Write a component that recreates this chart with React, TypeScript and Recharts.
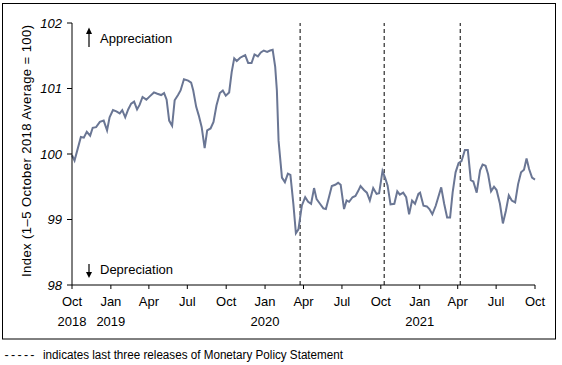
import React from 'react';
import { LineChart, Line, XAxis, YAxis, ReferenceLine } from 'recharts';

// Days since 1 October 2018 (weekly observations)
const days = [
  0, 6, 21, 28, 35, 43, 49, 57, 66, 75,
  83, 89, 97, 105, 113, 119, 126, 133, 140, 147,
  154, 160, 167, 176, 184, 194, 202, 211, 218, 224,
  230, 237, 243, 251, 257, 265, 275, 282, 287, 294,
  300, 307, 314, 320, 328, 335, 342, 350, 357, 364,
  372, 378, 384, 390, 398, 404, 410, 417, 425, 432,
  440, 447, 454, 462, 469, 475, 481, 485, 489, 494,
  497, 504, 511, 517, 524, 530, 536, 544, 552, 559,
  566, 573, 579, 587, 595, 601, 609, 615, 623, 630,
  636, 644, 650, 656, 664, 671, 677, 683, 691, 698,
  705, 713, 721, 727, 735, 741, 747, 754, 763, 770,
  776, 784, 791, 798, 805, 812, 820, 824, 832, 840,
  846, 853, 861, 867, 874, 881, 888, 895, 901, 908,
  915, 922, 930, 937, 944, 950, 958, 966, 972, 979,
  985, 992, 999, 1005, 1013, 1020, 1027, 1034, 1041, 1049,
  1056, 1063, 1070, 1076, 1082, 1089, 1096,
];

// Index (1–5 October 2018 Average = 100)
const values = [
  99.98, 99.9, 100.26, 100.25, 100.34, 100.28, 100.4, 100.41, 100.49, 100.51,
  100.36, 100.56, 100.67, 100.65, 100.62, 100.67, 100.56, 100.68, 100.77, 100.8,
  100.68, 100.75, 100.87, 100.83, 100.88, 100.94, 100.92, 100.9, 100.93, 100.83,
  100.51, 100.43, 100.82, 100.9, 100.97, 101.14, 101.12, 101.09, 100.97, 100.72,
  100.59, 100.41, 100.09, 100.36, 100.39, 100.49, 100.74, 100.93, 100.97, 100.89,
  100.94, 101.25, 101.46, 101.42, 101.47, 101.49, 101.51, 101.39, 101.39, 101.52,
  101.49, 101.55, 101.58, 101.56, 101.58, 101.59, 101.33, 100.97, 100.2, 99.85,
  99.64, 99.57, 99.7, 99.68, 99.24, 98.79, 98.85, 99.21, 99.34, 99.27,
  99.24, 99.48, 99.31, 99.24, 99.17, 99.16, 99.36, 99.51, 99.53, 99.56,
  99.53, 99.16, 99.29, 99.27, 99.34, 99.36, 99.43, 99.51, 99.45, 99.41,
  99.29, 99.48, 99.39, 99.4, 99.74, 99.64, 99.52, 99.23, 99.24, 99.43,
  99.38, 99.41, 99.34, 99.08, 99.29, 99.24, 99.39, 99.41, 99.21, 99.2,
  99.16, 99.08, 99.21, 99.34, 99.49, 99.24, 99.03, 99.03, 99.41, 99.72,
  99.86, 99.89, 100.06, 100.06, 99.6, 99.58, 99.41, 99.75, 99.84, 99.82,
  99.69, 99.43, 99.5, 99.45, 99.24, 98.94, 99.13, 99.37, 99.29, 99.26,
  99.54, 99.72, 99.76, 99.93, 99.77, 99.64, 99.61,
];

const quarterTicks = [0, 92, 182, 273, 365, 457, 548, 639, 731, 823, 913, 1004, 1096];
const monthLabels = ['Oct', 'Jan', 'Apr', 'Jul', 'Oct', 'Jan', 'Apr', 'Jul', 'Oct', 'Jan', 'Apr', 'Jul', 'Oct'];
const yearLabels = ['2018', '2019', '', '', '', '2020', '', '', '', '2021', '', '', ''];
const yTicks = [98, 99, 100, 101, 102];
const mpsReleaseDays = [540, 739, 919];

const yAxisTitle = 'Index (1\u20135 October 2018 Average  = 100)';
const upNote = 'Appreciation';
const downNote = 'Depreciation';
const footnoteDashes = '-----';
const footnote = 'indicates last three releases of Monetary Policy Statement';

const data = days.map((d, i) => ({ day: d, index: values[i] }));

const FONT = '"Liberation Sans", Arial, sans-serif';
const LINE_COLOR = '#6a7694';

function XTick(props: any) {
  const { x, y, payload } = props;
  const i = quarterTicks.indexOf(payload.value);
  return (
    <g>
      <text x={x} y={y + 15} textAnchor="middle" fontSize={13} fontFamily={FONT} fill="#000">
        {monthLabels[i]}
      </text>
      {yearLabels[i] ? (
        <text x={x} y={y + 35} textAnchor="middle" fontSize={13} fontFamily={FONT} fill="#000">
          {yearLabels[i]}
        </text>
      ) : null}
    </g>
  );
}

export default function App() {
  return (
    <div style={{ position: 'absolute', left: 0, top: 0, width: 562, height: 365, background: '#fff' }}>
      <LineChart
        width={562}
        height={365}
        data={data}
        margin={{ top: 23, right: 27, left: 0, bottom: 40 }}
      >
        <XAxis
          dataKey="day"
          type="number"
          domain={[0, 1096]}
          ticks={quarterTicks}
          interval={0}
          height={40}
          axisLine={{ stroke: '#000', strokeWidth: 1 }}
          tickLine={{ stroke: '#000' }}
          tickSize={4}
          tickMargin={2}
          tick={<XTick />}
        />
        <YAxis
          type="number"
          domain={[98, 102]}
          ticks={yTicks}
          interval={0}
          width={72}
          axisLine={{ stroke: '#000', strokeWidth: 1 }}
          tickLine={{ stroke: '#000' }}
          tickSize={5}
          tickMargin={5}
          tick={{ fontSize: 13, fontStyle: 'italic', fill: '#000', fontFamily: FONT }}
        />
        {mpsReleaseDays.map((d) => (
          <ReferenceLine key={d} x={d} stroke="#000" strokeWidth={1} strokeDasharray="4 3" />
        ))}
        <Line
          type="linear"
          dataKey="index"
          stroke={LINE_COLOR}
          strokeWidth={2}
          dot={false}
          isAnimationActive={false}
        />
      </LineChart>
      <svg
        width={562}
        height={365}
        style={{ position: 'absolute', left: 0, top: 0, pointerEvents: 'none' }}
      >
        <rect x={2.5} y={3.5} width={553} height={335.5} fill="none" stroke="#000" strokeWidth={1} />
        <text
          x={0}
          y={0}
          transform="translate(31,151) rotate(-90)"
          textAnchor="middle"
          fontSize={13}
          fontFamily={FONT}
          fill="#000"
          textLength={252}
          lengthAdjust="spacing"
        >
          {yAxisTitle}
        </text>
        <line x1={89} y1={31} x2={89} y2={47} stroke="#000" strokeWidth={1.2} />
        <polygon points="89,27.5 86,34 92,34" fill="#000" />
        <text x={100} y={43} fontSize={13} fontFamily={FONT} fill="#000">{upNote}</text>
        <line x1={89} y1={264} x2={89} y2={274} stroke="#000" strokeWidth={1.2} />
        <polygon points="89,278 86,272 92,272" fill="#000" />
        <text x={100} y={274} fontSize={13} fontFamily={FONT} fill="#000">{downNote}</text>
        <text x={4.5} y={359} fontSize={12.5} fontFamily={FONT} fill="#000" letterSpacing={2.3}>
          {footnoteDashes}
        </text>
        <text
          x={43}
          y={359}
          fontSize={12.5}
          fontFamily={FONT}
          fill="#000"
          textLength={300}
          lengthAdjust="spacingAndGlyphs"
        >
          {footnote}
        </text>
      </svg>
    </div>
  );
}
